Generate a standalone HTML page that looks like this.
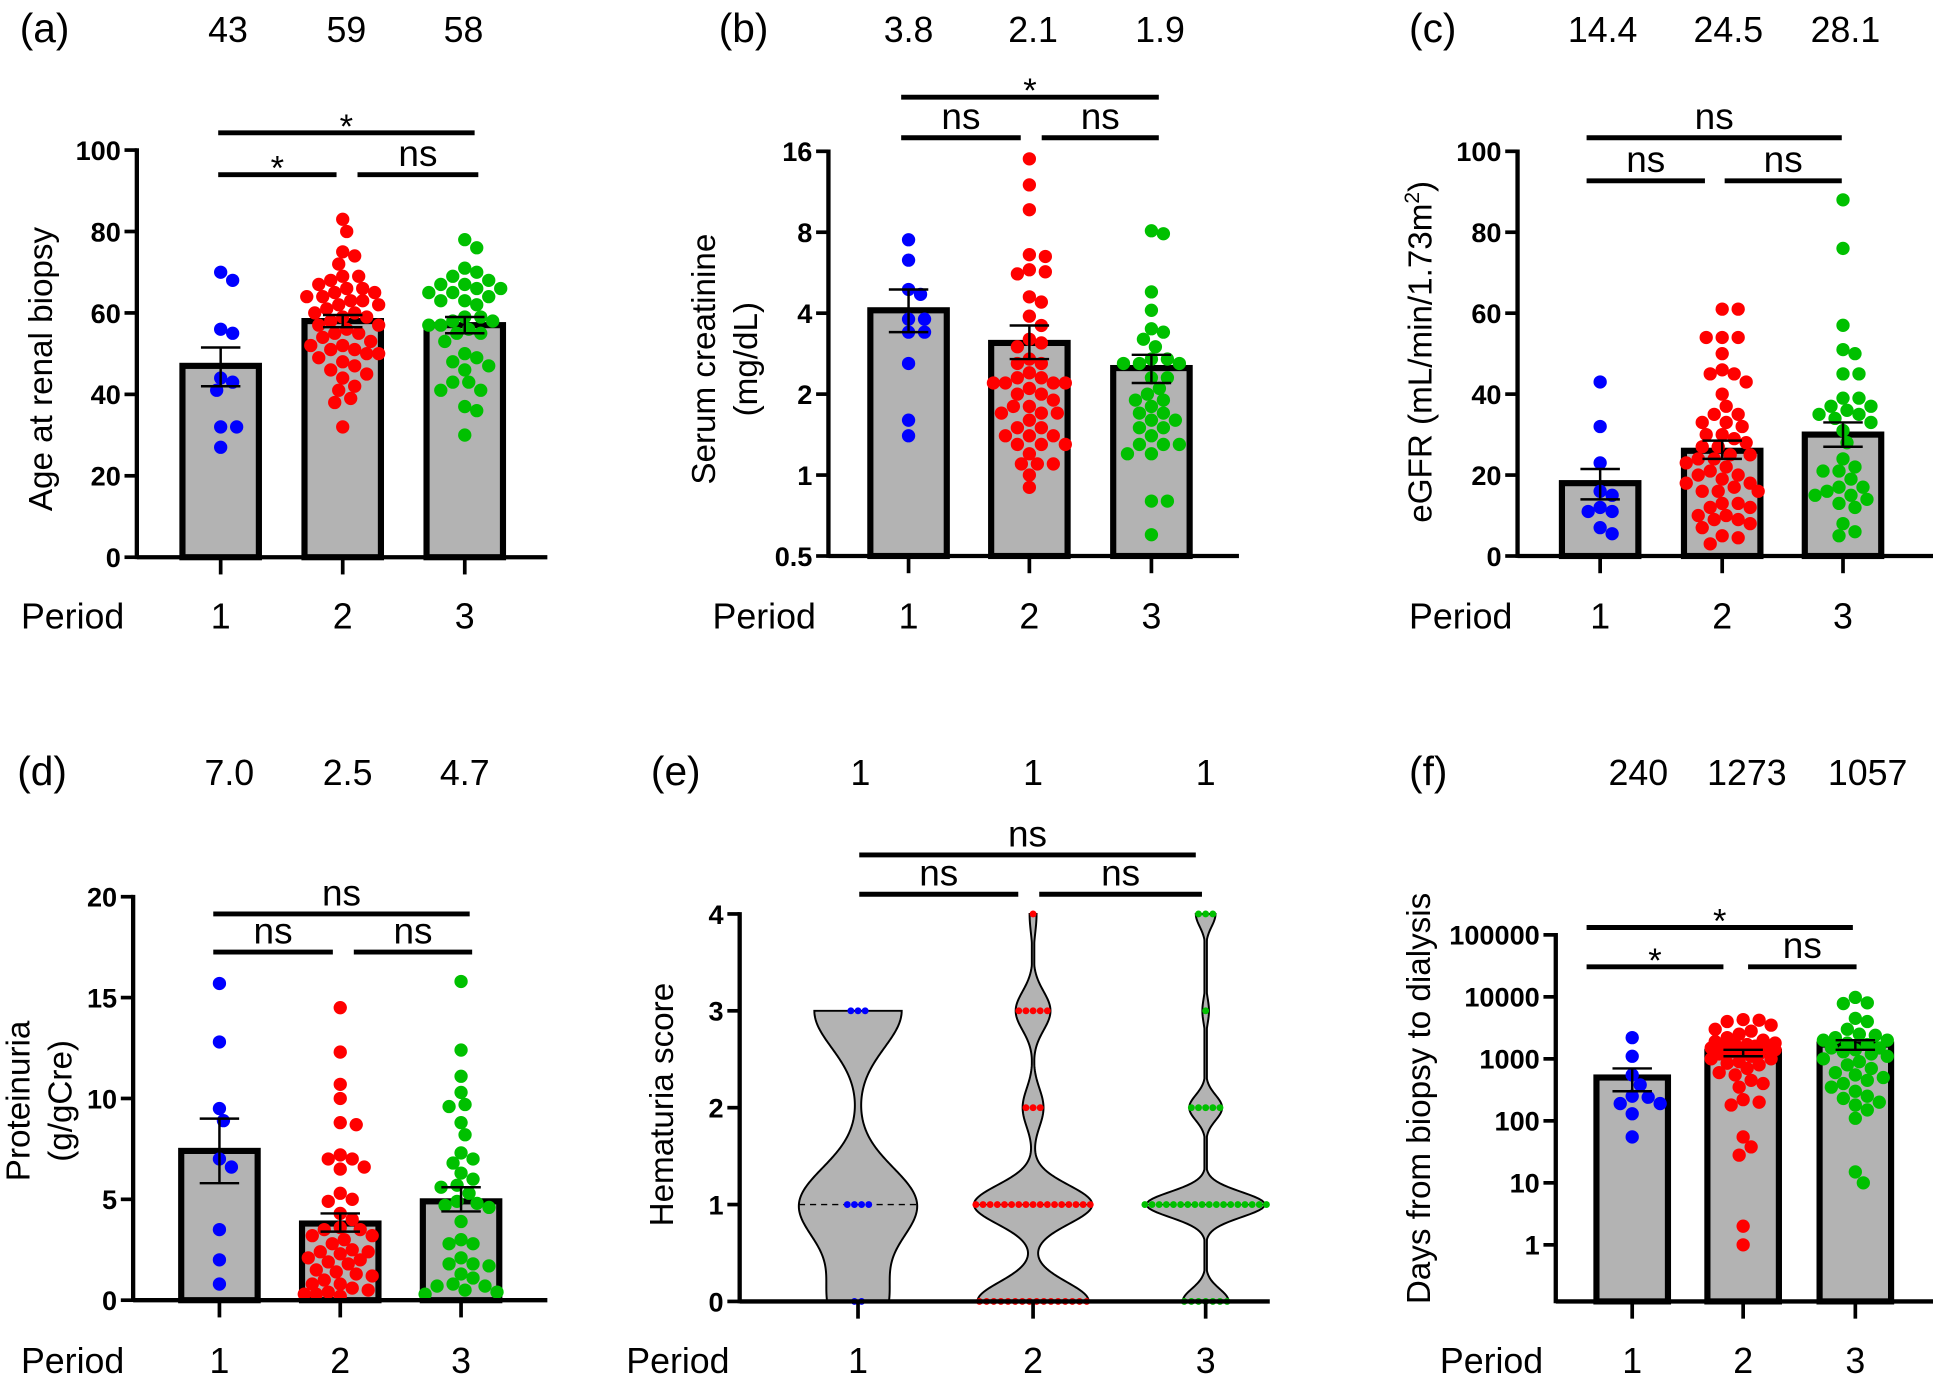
<!DOCTYPE html>
<html><head><meta charset="utf-8">
<style>
html,body{margin:0;padding:0;background:#fff;}
svg{display:block;font-family:"Liberation Sans",Arial,sans-serif;}
</style></head>
<body>
<svg id="fig" width="1933" height="1374" viewBox="0 0 1568 1117" preserveAspectRatio="none" xmlns="http://www.w3.org/2000/svg"></svg>
<script>
// ---------- data ----------
const periods = ["1","2","3"];
const colors = ["#0000ff","#ff0000","#00c000"];

const ageP1 = [70,68,56,55,44,43,41,32,32,27];
const ageP2 = [83,80,75,74,72,69,69,68,67,66,66,65,65,64,64,63,63,62,62,61,60,60,59,59,58,57,57,56,55,55,54,53,52,52,51,51,50,50,49,48,47,46,45,44,42,41,39,38,32];
const ageP3 = [78,76,71,70,69,68,67,67,66,66,65,65,64,63,63,62,59,59,58,58,57,57,56,55,55,53,50,49,48,47,46,43,43,41,41,37,36,30];
const ageMean = [47,58,57];
const ageErrLo = [42,56.5,55];
const ageErrHi = [51.5,59.5,59];
const ageMedian = ["43","59","58"];
const ageTicks = [0,20,40,60,80,100];

const crP1 = [7.5,6.3,4.9,4.7,3.8,3.8,3.4,3.4,2.6,1.6,1.4];
const crP2 = [15,12,9.7,6.6,6.5,5.8,5.7,5.6,4.6,4.4,3.9,3.6,3.2,3.1,3.0,2.7,2.6,2.6,2.4,2.3,2.3,2.2,2.2,2.2,2.2,2.1,2.0,2.0,1.9,1.8,1.8,1.7,1.7,1.7,1.6,1.5,1.5,1.4,1.4,1.4,1.3,1.3,1.3,1.2,1.1,1.1,1.1,1.0,0.9];
const crP3 = [8.1,7.9,4.8,4.1,3.5,3.4,3.2,3.0,2.7,2.7,2.6,2.6,2.6,2.3,2.3,2.1,2.0,1.9,1.9,1.8,1.7,1.7,1.6,1.6,1.5,1.5,1.4,1.3,1.3,1.3,1.2,1.2,0.8,0.8,0.6];
const crMean = [4.1,3.1,2.5];
const crErrLo = [3.4,2.7,2.2];
const crErrHi = [4.9,3.6,2.8];
const crMedian = ["3.8","2.1","1.9"];
const crTicks = [0.5,1,2,4,8,16];

const gfrP1 = [43,32,23,16,15,12,11,11,7,5.5];
const gfrP2 = [61,61,54,54,54,50,46,45,45,43,40,37,35,35,33,33,32,30,30,29,28,27,27,25,25,24,24,23,22,21,20,20,19,18,18,17,16,16,16,13,13,12,12,10,10,9,9,8,7,5,4.5,3];
const gfrP3 = [88,76,57,51,50,45,45,39,39,37,37,36,35,35,34,33,31,28,24,22,21,21,19,17,17,16,15,15,14,13,12,8,6,5];
const gfrMean = [18,26,30];
const gfrErrLo = [14,24,27];
const gfrErrHi = [21.5,28.5,33];
const gfrMedian = ["14.4","24.5","28.1"];
const gfrTicks = [0,20,40,60,80,100];

const prP1 = [15.7,12.8,9.5,8.9,7.0,6.6,3.5,2.0,0.8];
const prP2 = [14.5,12.3,10.7,10.0,8.8,8.7,7.2,7.0,7.0,6.6,6.5,5.3,5.0,4.9,4.3,4.0,3.6,3.5,3.5,3.2,3.2,3.0,2.8,2.5,2.4,2.4,2.3,2.1,2.0,1.9,1.8,1.5,1.4,1.3,1.2,1.0,0.8,0.8,0.6,0.5,0.4,0.3,0.3,0.2];
const prP3 = [15.8,12.4,11.1,10.3,9.7,9.6,8.8,8.2,7.3,7.0,6.8,6.3,6.0,5.7,5.6,5.3,4.9,4.8,4.7,4.6,3.9,3.0,2.8,2.8,2.1,1.8,1.8,1.7,1.3,1.1,0.8,0.7,0.7,0.5,0.4,0.3];
const prMean = [7.4,3.8,4.9];
const prErrLo = [5.8,3.4,4.4];
const prErrHi = [9.0,4.3,5.6];
const prMedian = ["7.0","2.5","4.7"];
const prTicks = [0,5,10,15,20];

const hemScores = [0,1,2,3,4];
const hemCountsP1 = [2,4,0,3,0];
const hemCountsP2 = [16,17,3,5,1];
const hemCountsP3 = [7,18,5,1,3];
const hemMedianVal = [1,1,1];
const hemMedian = ["1","1","1"];
const hemTicks = [0,1,2,3,4];

const dP1 = [2200,1100,550,380,250,240,190,190,130,55];
const dP2 = [4300,4200,4000,3500,3000,2800,2500,2200,2000,1900,1800,1700,1700,1600,1600,1500,1500,1400,1300,1300,1200,1200,1100,1000,1000,900,850,800,700,600,550,450,400,350,220,200,180,55,38,28,2,1];
const dP3 = [9800,8000,7800,4500,4000,3000,2500,2400,2200,2000,2000,1800,1700,1500,1500,1400,1300,1200,1100,1000,900,800,700,600,550,500,450,400,350,300,250,230,200,180,150,110,15,10];
const dMean = [500,1300,1700];
const dErrLo = [300,1100,1400];
const dErrHi = [700,1400,2000];
const dMedian = ["240","1273","1057"];
const dTicks = [1,10,100,1000,10000,100000];

// ---------- helpers ----------
const NS="http://www.w3.org/2000/svg";
const svg=document.getElementById('fig');
function mk(tag,attrs,parent){const e=document.createElementNS(NS,tag);for(const k in attrs)e.setAttribute(k,attrs[k]);(parent||svg).appendChild(e);return e;}
function txt(s,attrs,parent){const e=mk('text',attrs,parent);e.textContent=s;return e;}

function swarm(vals,cx,yf,r,maxOff){
  const placed=[];const out=[];
  const sorted=vals.slice().sort((a,b)=>b-a);
  const step=r*0.6, need=r*1.85;
  const offs=[0];
  for(let k=1;k*step<=maxOff;k++){offs.push(k*step);offs.push(-k*step);}
  for(const v of sorted){
    const y=yf(v);let best=null,bestD=-1;
    for(const off of offs){
      const tx=cx+off;let md=1e9;
      for(const p of placed){const d=Math.hypot(p.x-tx,p.y-y);if(d<md)md=d;}
      if(md>=need){best=tx;break;}
      if(md>bestD){bestD=md;best=tx;}
    }
    placed.push({x:best,y});out.push({x:best,y});
  }
  return out;
}

function frame(g,cfg){
  const l1=mk('line',{x1:cfg.ax,y1:cfg.yTop-1.5,x2:cfg.ax,y2:cfg.base+1.5,stroke:'#000','stroke-width':3.5},g);
  
  
  const l2=mk('line',{x1:cfg.ax,y1:cfg.base,x2:cfg.xEnd,y2:cfg.base,stroke:'#000','stroke-width':3.5},g);
  
  
  cfg.ticks.forEach((t,i)=>{
    const y=cfg.y(t);
    const tk=mk('line',{x1:cfg.ax-10,y1:y,x2:cfg.ax,y2:y,stroke:'#000','stroke-width':3},g);
    
    
    const tl=txt(String(t),{x:cfg.ax-13,y:y+8,'text-anchor':'end','font-size':22,'font-weight':'bold'},g);
    
    
  });
  cfg.cats.forEach((cx,i)=>{
    const tk=mk('line',{x1:cx,y1:cfg.base,x2:cx,y2:cfg.base+14,stroke:'#000','stroke-width':3},g);
    
    
    const tl=txt(periods[i],{x:cx,y:cfg.labY,'text-anchor':'middle','font-size':29},g);
    
    
    const m=txt(cfg.medians[i],{x:cfg.medX[i],y:cfg.topY,'text-anchor':'middle','font-size':29},g);
    
    
  });
  const pl=txt('Period',{x:cfg.periodX,y:cfg.labY,'font-size':29},g);
  
  
  const lt=txt(cfg.letter,{x:cfg.letterX,y:cfg.topY,'font-size':33},g);
  
  
  const tg=mk('text',{transform:`translate(${cfg.titleX},${cfg.titleY}) rotate(-90)`,'text-anchor':'middle','font-size':27},g);
  
  
  cfg.title.forEach((line,i)=>{const ts=mk('tspan',{x:0,dy:i===0?0:34},tg);ts.innerHTML=line;});
  cfg.sig.forEach(s=>{
    const bl=mk('line',{x1:s[0],y1:s[2],x2:s[1],y2:s[2],stroke:'#000','stroke-width':4},g);
    
    
    const isStar=s[3]==='*';
    const st=txt(s[3],{x:(s[0]+s[1])/2,y:s[2]-(isStar?-4:7),'text-anchor':'middle','font-size':isStar?28:30},g);
    
    
  });
}

function barPanel(cfg,groups,mean,lo,hi){
  const g=mk('g',{});
  
  
  cfg.cats.forEach((cx,i)=>{
    const yT=cfg.y(mean[i]);
    const b=mk('rect',{x:cx-cfg.hw,y:yT,width:2*cfg.hw,height:cfg.base-yT,fill:'#b3b3b3',stroke:'#000','stroke-width':5},g);
    
    
  });
  cfg.cats.forEach((cx,i)=>{
    const pts=swarm(groups[i],cx,cfg.y,5.4,cfg.hw);
    pts.forEach(p=>{
      const c=mk('circle',{cx:p.x,cy:p.y,r:5.4,fill:colors[i]},g);
      
      
    });
  });
  cfg.cats.forEach((cx,i)=>{
    const e=mk('path',{d:`M${cx},${cfg.y(lo[i])}V${cfg.y(hi[i])}M${cx-16},${cfg.y(hi[i])}H${cx+16}M${cx-16},${cfg.y(lo[i])}H${cx+16}`,stroke:'#000','stroke-width':2,fill:'none'},g);
    
    
  });
  frame(g,cfg);
}

const lin=(v0,v1,p0,p1)=>v=>p0+(v-v0)*(p1-p0)/(v1-v0);

barPanel({name:'panel-a-age',ax:111,yTop:122,base:453,xEnd:444,cats:[179,278,377],hw:31,
  y:lin(0,100,453,122),ticks:ageTicks,labY:511,topY:34,medians:ageMedian,medX:[185,281,376],
  periodX:17,letter:'(a)',letterX:16,title:['Age at renal biopsy'],titleX:42,titleY:300,
  sig:[[177,385,108,'*'],[177,273,142,'*'],[290,388,142,'ns']]},[ageP1,ageP2,ageP3],ageMean,ageErrLo,ageErrHi);
barPanel({name:'panel-b-creatinine',ax:672,yTop:123,base:452,xEnd:1005,cats:[737,835,934],hw:31,
  y:v=>452-65.8*Math.log2(v/0.5),ticks:crTicks,labY:511,topY:34,medians:crMedian,medX:[737,838,941],
  periodX:578,letter:'(b)',letterX:583,title:['Serum creatinine','(mg/dL)'],titleX:580,titleY:292,
  sig:[[731,940,79,'*'],[731,828,112,'ns'],[845,940,112,'ns']]},[crP1,crP2,crP3],crMean,crErrLo,crErrHi);
barPanel({name:'panel-c-egfr',ax:1231,yTop:123,base:452,xEnd:1568,cats:[1298,1397,1495],hw:31,
  y:lin(0,100,452,123),ticks:gfrTicks,labY:511,topY:34,medians:gfrMedian,medX:[1300,1402,1497],
  periodX:1143,letter:'(c)',letterX:1143,title:['eGFR (mL/min/1.73m<tspan dy="-10" font-size="17">2</tspan><tspan dy="10">)</tspan>'],titleX:1161,titleY:286,
  sig:[[1287,1494,112,'ns'],[1287,1383,147,'ns'],[1399,1494,147,'ns']]},[gfrP1,gfrP2,gfrP3],gfrMean,gfrErrLo,gfrErrHi);
barPanel({name:'panel-d-proteinuria',ax:108,yTop:729,base:1057,xEnd:444,cats:[178,276,374],hw:31,
  y:lin(0,20,1057,729),ticks:prTicks,labY:1116,topY:638,medians:prMedian,medX:[186,282,377],
  periodX:17,letter:'(d)',letterX:14,title:['Proteinuria','(g/gCre)'],titleX:24,titleY:895,
  sig:[[173,381,743,'ns'],[173,270,774,'ns'],[287,383,774,'ns']]},[prP1,prP2,prP3],prMean,prErrLo,prErrHi);
barPanel({name:'panel-f-days',ax:1262,yTop:760,base:1058,xEnd:1568,cats:[1324,1414,1505],hw:29,
  y:v=>1012-50.4*Math.log10(v),ticks:dTicks,labY:1116,topY:638,medians:dMedian,medX:[1329,1417,1515],
  periodX:1168,letter:'(f)',letterX:1143,title:['Days from biopsy to dialysis'],titleX:1160,titleY:893,
  sig:[[1287,1503,754,'*'],[1287,1398,786,'*'],[1418,1506,786,'ns']]},[dP1,dP2,dP3],dMean,dErrLo,dErrHi);

(function(){
  const cfg={name:'panel-e-hematuria',ax:600,yTop:743,base:1058,xEnd:1030,cats:[696,838,978],
    y:lin(0,4,1058,743),ticks:hemTicks,labY:1116,topY:638,medians:hemMedian,medX:[698,838,978],
    periodX:508,letter:'(e)',letterX:528,title:['Hematuria score'],titleX:546,titleY:898,
    sig:[[697,970,695,'ns'],[697,826,727,'ns'],[843,975,727,'ns']]};
  const g=mk('g',{});
  
  
  const counts=[hemCountsP1,hemCountsP2,hemCountsP3];
  const bws=[0.38,0.2,0.13];
  cfg.cats.forEach((cx,i)=>{
    const c=counts[i];
    const present=hemScores.filter((s,j)=>c[j]>0);
    const mn=Math.min(...present),mx=Math.max(...present);
    const dens=v=>hemScores.reduce((a,s,j)=>a+c[j]*Math.exp(-0.5*((v-s)/bws[i])**2),0);
    const N=200,ys=[],ds=[];
    for(let k=0;k<=N;k++){const v=mn+(mx-mn)*k/N;ys.push(v);ds.push(dens(v));}
    const dmax=Math.max(...ds);
    const hw=ds.map(d=>Math.max(1,48*d/dmax));
    let d='M'+(cx-hw[0])+','+cfg.y(ys[0]);
    for(let k=1;k<=N;k++)d+='L'+(cx-hw[k])+','+cfg.y(ys[k]);
    for(let k=N;k>=0;k--)d+='L'+(cx+hw[k])+','+cfg.y(ys[k]);
    d+='Z';
    const vp=mk('path',{d,fill:'#b3b3b3',stroke:'#000','stroke-width':1.6},g);
    
    
    const mv=hemMedianVal[i];const mhw=48*dens(mv)/dmax;
    const ml=mk('line',{x1:cx-mhw,y1:cfg.y(mv),x2:cx+mhw,y2:cfg.y(mv),stroke:'#000','stroke-width':1.2,'stroke-dasharray':'5,4'},g);
    
    
    hemScores.forEach((s,j)=>{
      const n=c[j];
      for(let k=0;k<n;k++){
        const x=cx+(k-(n-1)/2)*5.8;
        const dot=mk('circle',{cx:x,cy:cfg.y(s),r:2.8,fill:colors[i]},g);
        
        
      }
    });
  });
  frame(g,cfg);
})();
</script>
</body></html>
